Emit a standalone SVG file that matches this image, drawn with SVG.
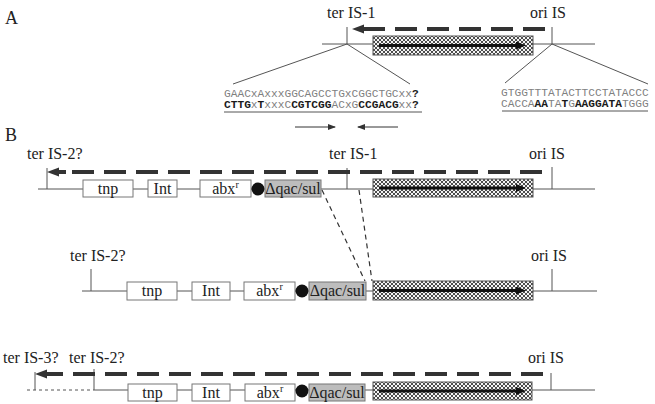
<svg xmlns="http://www.w3.org/2000/svg" width="655" height="404" viewBox="0 0 655 404">
<style>
.lbl{font-family:"Liberation Serif","Times New Roman",serif;font-size:16px;fill:#222}
.big{font-family:"Liberation Serif","Times New Roman",serif;font-size:18px;fill:#222}
.seq{font-family:"Liberation Mono","Courier New",monospace;font-size:11.2px;fill:#808080}
.b{font-weight:bold;fill:#1a1a1a}
.ln{stroke:#555;stroke-width:1;fill:none}
.dash{stroke:#333;stroke-width:4;stroke-dasharray:22 10;fill:none}
.box{fill:#fff;stroke:#777;stroke-width:1}
.gbox{fill:#bdbdbd;stroke:#777;stroke-width:1}
.hatch{fill:url(#xh);stroke:#555;stroke-width:1}
.inarr{stroke:#111;stroke-width:3;fill:none;marker-end:url(#ah)}
.conn{stroke:#333;stroke-width:1.2;stroke-dasharray:5 4;fill:none}
.head{fill:#333}
</style>
<defs>
<pattern id="xh" patternUnits="userSpaceOnUse" width="4" height="4">
<rect width="4" height="4" fill="#f4f4f4"/>
<path d="M0,0 L4,4 M4,0 L0,4" stroke="#3a3a3a" stroke-width="0.9"/>
</pattern>
<marker id="ah" viewBox="0 0 10 8" markerWidth="10" markerHeight="8" refX="2" refY="4" orient="auto" markerUnits="userSpaceOnUse">
<path d="M0,0 L10,4 L0,8 z" fill="#111"/>
</marker>
<marker id="sa" viewBox="0 0 8 6" markerWidth="8" markerHeight="6" refX="7" refY="3" orient="auto" markerUnits="userSpaceOnUse">
<path d="M0,0 L8,3 L0,6 z" fill="#333"/>
</marker>
</defs>

<!-- Panel A -->
<g id="panelA">
<text class="big" x="5" y="24">A</text>
<g id="A-ter1"><text class="lbl" x="327" y="18">ter IS-1</text><line class="ln" x1="347" y1="27" x2="347" y2="44"/></g>
<g id="A-ori"><text class="lbl" x="530" y="18">ori IS</text><line class="ln" x1="552" y1="27" x2="552" y2="44"/></g>
<line class="ln" x1="322" y1="44" x2="595" y2="44"/>
<g id="A-dasharrow">
<line class="dash" x1="545" y1="29" x2="364" y2="29"/>
<line stroke="#333" stroke-width="4" x1="362" y1="29" x2="374" y2="29"/>
<polygon class="head" points="352,29 364,24.5 364,33.5"/>
</g>
<g id="A-is"><rect class="hatch" x="373" y="36" width="160" height="19"/><line class="inarr" x1="379" y1="45.5" x2="518" y2="45.5"/></g>
<g id="A-fan">
<line class="ln" x1="347" y1="44" x2="233" y2="84"/>
<line class="ln" x1="347" y1="44" x2="410" y2="84"/>
<line class="ln" x1="552" y1="44" x2="505" y2="83"/>
<line class="ln" x1="552" y1="44" x2="648" y2="84"/>
</g>
<g id="A-seqL">
<text class="seq" x="224" y="97">GAACxAxxxGGCAGCCTGxCGGCTGCxx<tspan class="b">?</tspan></text>
<text class="seq" x="224" y="108"><tspan class="b">CTTG</tspan>x<tspan class="b">T</tspan>xxxC<tspan class="b">CGTCGG</tspan>ACxG<tspan class="b">CCGACG</tspan>xx<tspan class="b">?</tspan></text>
<line class="ln" x1="224" y1="112" x2="422" y2="112"/>
</g>
<g id="A-seqR">
<text class="seq" x="501" y="96">GTGGTTTATACTTCCTATACCC</text>
<text class="seq" x="501" y="107">CACCA<tspan class="b">AA</tspan>TA<tspan class="b">T</tspan>G<tspan class="b">AAGGATA</tspan>TGGG</text>
<line class="ln" x1="502" y1="111" x2="648" y2="111"/>
</g>
<g id="A-primers">
<line stroke="#333" stroke-width="1" x1="295" y1="127" x2="335" y2="127" marker-end="url(#sa)"/>
<line stroke="#333" stroke-width="1" x1="398" y1="127" x2="358" y2="127" marker-end="url(#sa)"/>
</g>
</g>

<!-- Panel B -->
<text class="big" x="5" y="141">B</text>

<g id="B1">
<text class="lbl" x="27" y="159">ter IS-2?</text>
<text class="lbl" x="329" y="159">ter IS-1</text>
<text class="lbl" x="529" y="159">ori IS</text>
<line class="ln" x1="38" y1="189" x2="595" y2="189"/>
<line class="ln" x1="47" y1="168" x2="47" y2="189"/>
<line class="ln" x1="347" y1="168" x2="347" y2="189"/>
<line class="ln" x1="552" y1="167" x2="552" y2="189"/>
<line class="dash" x1="542" y1="172" x2="59" y2="172"/>
<line stroke="#333" stroke-width="4" x1="57" y1="172" x2="66" y2="172"/>
<polygon class="head" points="47,172 59,167.5 59,176.5"/>
<g id="B1-tnp"><rect class="box" x="83" y="180" width="50" height="17"/><text class="lbl" x="108" y="194" text-anchor="middle">tnp</text></g>
<g id="B1-int"><rect class="box" x="148" y="180" width="29" height="17"/><text class="lbl" x="162.5" y="194" text-anchor="middle">Int</text></g>
<g id="B1-abx"><rect class="box" x="200" y="180" width="51" height="17"/><text class="lbl" x="225.5" y="194" text-anchor="middle">abx<tspan font-size="10" dy="-6">r</tspan></text></g>
<circle cx="258" cy="189" r="6.5" fill="#111"/>
<g id="B1-qac"><rect class="gbox" x="265" y="180" width="56" height="17"/><text class="lbl" x="293" y="194" text-anchor="middle" font-size="15.5">Δqac/sul</text></g>
<g id="B1-is"><rect class="hatch" x="373" y="179" width="160" height="18"/><line class="inarr" x1="379" y1="188" x2="518" y2="188"/></g>
</g>

<g id="connectors">
<line class="conn" x1="322" y1="190" x2="365" y2="281"/>
<line class="conn" x1="359" y1="190" x2="372" y2="281"/>
</g>

<g id="B2">
<text class="lbl" x="70" y="261">ter IS-2?</text>
<text class="lbl" x="531" y="261">ori IS</text>
<line class="ln" x1="82" y1="291" x2="597" y2="291"/>
<line class="ln" x1="91" y1="269" x2="91" y2="291"/>
<line class="ln" x1="552" y1="269" x2="552" y2="291"/>
<g id="B2-tnp"><rect class="box" x="127" y="282" width="50" height="18"/><text class="lbl" x="152" y="296" text-anchor="middle">tnp</text></g>
<g id="B2-int"><rect class="box" x="192" y="282" width="38" height="18"/><text class="lbl" x="211" y="296" text-anchor="middle">Int</text></g>
<g id="B2-abx"><rect class="box" x="244" y="282" width="51" height="18"/><text class="lbl" x="269.5" y="296" text-anchor="middle">abx<tspan font-size="10" dy="-6">r</tspan></text></g>
<circle cx="302" cy="291" r="6.5" fill="#111"/>
<g id="B2-qac"><rect class="gbox" x="309" y="282" width="57" height="18"/><text class="lbl" x="337.5" y="296" text-anchor="middle" font-size="15.5">Δqac/sul</text></g>
<g id="B2-is"><rect class="hatch" x="373" y="281" width="160" height="19"/><line class="inarr" x1="379" y1="290.5" x2="518" y2="290.5"/></g>
</g>

<g id="B3">
<text class="lbl" x="3" y="363">ter IS-3?</text>
<text class="lbl" x="69" y="363">ter IS-2?</text>
<text class="lbl" x="528" y="363">ori IS</text>
<line stroke="#555" stroke-width="1" stroke-dasharray="3 3" x1="27" y1="390" x2="94" y2="390"/>
<line class="ln" x1="94" y1="390" x2="595" y2="390"/>
<line class="ln" x1="35" y1="372" x2="35" y2="390"/>
<line class="ln" x1="94" y1="369" x2="94" y2="390"/>
<line class="ln" x1="551" y1="373" x2="551" y2="390"/>
<line class="dash" x1="543" y1="374" x2="47" y2="374"/>
<line stroke="#333" stroke-width="4" x1="45" y1="374" x2="55" y2="374"/>
<polygon class="head" points="35,374 47,369.5 47,378.5"/>
<g id="B3-tnp"><rect class="box" x="128" y="384" width="49" height="17"/><text class="lbl" x="152.5" y="398" text-anchor="middle">tnp</text></g>
<g id="B3-int"><rect class="box" x="192" y="384" width="38" height="17"/><text class="lbl" x="211" y="398" text-anchor="middle">Int</text></g>
<g id="B3-abx"><rect class="box" x="245" y="384" width="50" height="17"/><text class="lbl" x="270" y="398" text-anchor="middle">abx<tspan font-size="10" dy="-6">r</tspan></text></g>
<circle cx="302" cy="391" r="6.5" fill="#111"/>
<g id="B3-qac"><rect class="gbox" x="309" y="384" width="56" height="17"/><text class="lbl" x="337" y="398" text-anchor="middle" font-size="15.5">Δqac/sul</text></g>
<g id="B3-is"><rect class="hatch" x="373" y="382" width="159" height="18"/><line class="inarr" x1="379" y1="391" x2="518" y2="391"/></g>
</g>
</svg>
